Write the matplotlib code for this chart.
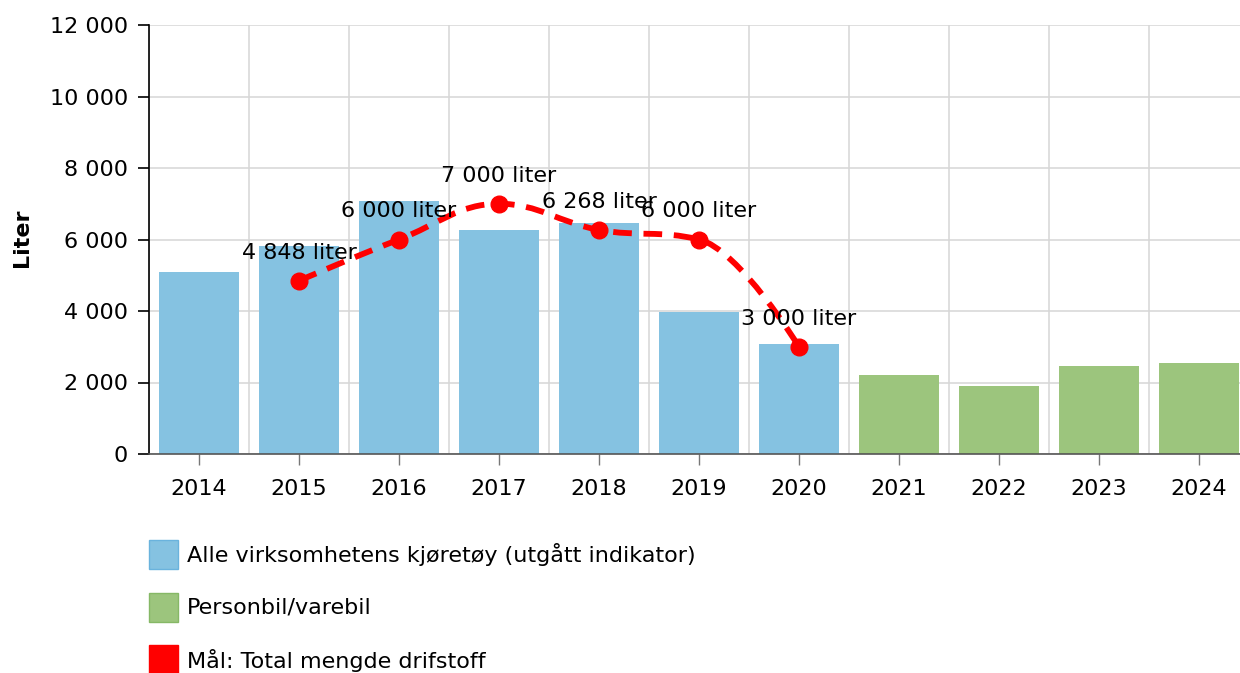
import matplotlib
matplotlib.use('Agg')

import matplotlib.pyplot as plt
from matplotlib.path import Path
from matplotlib.patches import PathPatch, Rectangle
from matplotlib.ticker import FuncFormatter

plt.rcParams['font.family'] = 'DejaVu Sans'
plt.rcParams['font.size'] = 16

years = ['2014', '2015', '2016', '2017', '2018', '2019', '2020',
         '2021', '2022', '2023', '2024']
alle = [5090, 5830, 7077, 6266, 6460, 3970, 3077]
personbil = [2210, 1900, 2460, 2550]
maal_years = [1, 2, 3, 4, 5, 6]   # index into years (2015-2020)
maal = [4848, 6000, 7000, 6268, 6000, 3000]

blue = '#85c2e1'
green = '#9cc57d'
red = '#ff0000'


def spline_path(xs, ys, smoothing=1.5):
    # highcharts style spline control points
    denom = smoothing + 1
    n = len(xs)
    left = [None] * n
    right = [None] * n
    for i in range(1, n - 1):
        x, y = xs[i], ys[i]
        lx, ly = xs[i - 1], ys[i - 1]
        nx, ny = xs[i + 1], ys[i + 1]
        lcx = (smoothing * x + lx) / denom
        lcy = (smoothing * y + ly) / denom
        rcx = (smoothing * x + nx) / denom
        rcy = (smoothing * y + ny) / denom
        if rcx != lcx:
            corr = (rcy - lcy) * (rcx - x) / (rcx - lcx) + y - rcy
            lcy += corr
            rcy += corr
        if lcy > max(ly, y):
            lcy = max(ly, y)
            rcy = 2 * y - lcy
        elif lcy < min(ly, y):
            lcy = min(ly, y)
            rcy = 2 * y - lcy
        if rcy > max(y, ny):
            rcy = max(y, ny)
            lcy = 2 * y - rcy
        elif rcy < min(y, ny):
            rcy = min(y, ny)
            lcy = 2 * y - rcy
        left[i] = (lcx, lcy)
        right[i] = (rcx, rcy)
    verts = [(xs[0], ys[0])]
    codes = [Path.MOVETO]
    for i in range(1, n):
        c1 = right[i - 1] if right[i - 1] else (xs[i - 1], ys[i - 1])
        c2 = left[i] if left[i] else (xs[i], ys[i])
        verts += [c1, c2, (xs[i], ys[i])]
        codes += [Path.CURVE4] * 3
    return Path(verts, codes)


fig = plt.figure(figsize=(12.4, 6.73), dpi=100)
ax = fig.add_axes([149 / 1240, 219 / 673, 1100 / 1240, 429 / 673])

x_alle = list(range(len(alle)))
x_pers = list(range(len(alle), len(years)))
ax.bar(x_alle, alle, width=0.8, color=blue, zorder=2)
ax.bar(x_pers, personbil, width=0.8, color=green, zorder=2)

patch = PathPatch(spline_path(maal_years, maal), fill=False, edgecolor=red,
                  linewidth=4.2, linestyle=(0, (3.2, 2.0)), zorder=3,
                  capstyle='butt')
ax.add_patch(patch)
ax.plot(maal_years, maal, 'o', color=red, markersize=12, zorder=4)

for xi, v in zip(maal_years, maal):
    ax.annotate('{:,} liter'.format(v).replace(',', ' '), (xi, v),
                xytext=(0, 13), textcoords='offset points',
                ha='center', va='bottom', fontsize=16, zorder=5)

ax.set_xlim(-0.5, 10.5)
ax.set_ylim(0, 12000)
ax.set_yticks(range(0, 12001, 2000))
ax.yaxis.set_major_formatter(FuncFormatter(lambda v, p: '{:,}'.format(int(v)).replace(',', ' ')))
ax.set_xticks(range(len(years)))
ax.set_xticklabels(years)
ax.set_xticks([i + 0.5 for i in range(-1, len(years))], minor=True)

ax.grid(True, which='minor', axis='x', color='#d6d6d6', linewidth=1.1, zorder=0)
ax.grid(True, which='major', axis='y', color='#d6d6d6', linewidth=1.1, zorder=0)
ax.set_axisbelow(True)

for s in ['top', 'right']:
    ax.spines[s].set_visible(False)
ax.spines['left'].set_color('black')
ax.spines['left'].set_linewidth(1.2)
ax.spines['bottom'].set_color('#555555')
ax.spines['bottom'].set_linewidth(1.2)
ax.tick_params(axis='y', length=8, width=1.2, pad=7, color='black')
ax.tick_params(axis='x', which='major', length=8, width=1, color='#777777', pad=10)
ax.tick_params(axis='x', which='minor', length=0)

fig.text(22 / 1240, 1 - 238 / 673, 'Liter', rotation=90, fontweight='bold',
         fontsize=16, ha='center', va='center')

# legend
items = [(blue, '#6ab3dd', 'Alle virksomhetens kjøretøy (utgått indikator)'),
         (green, '#86b866', 'Personbil/varebil'),
         (red, red, 'Mål: Total mengde drifstoff')]
for k, (fc, ec, label) in enumerate(items):
    yc = 555 + k * 52.5
    fig.add_artist(Rectangle((149 / 1240, 1 - (yc + 14) / 673), 29 / 1240, 29 / 673,
                             transform=fig.transFigure, facecolor=fc,
                             edgecolor=ec, linewidth=1))
    fig.text(187 / 1240, 1 - yc / 673, label, fontsize=16, va='center', ha='left')

fig.savefig('out.png', dpi=100)
